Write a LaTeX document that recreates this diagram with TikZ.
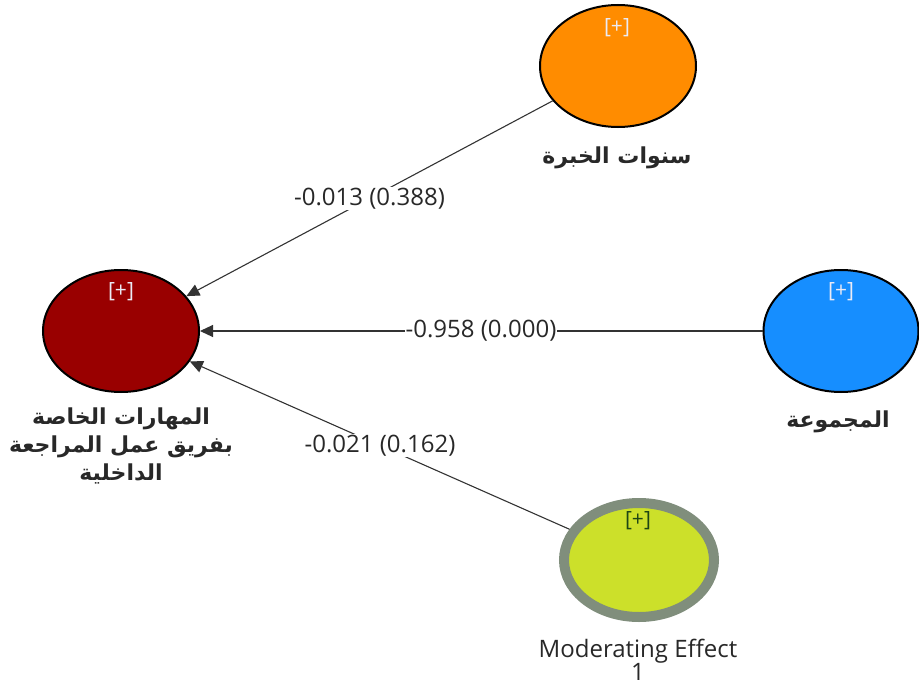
\documentclass[tikz,border=0pt]{standalone}
\usepackage{fontspec}
\setmainfont{Open Sans}
\newfontfamily\arabicfont[Script=Arabic]{DejaVu Sans}
\TeXXeTstate=1
\usetikzlibrary{shapes.geometric,arrows.meta,calc}
\definecolor{cred}{RGB}{153,0,0}
\definecolor{corange}{RGB}{255,140,0}
\definecolor{cblue}{RGB}{22,142,255}
\definecolor{cyellow}{RGB}{204,224,42}
\definecolor{cgray}{RGB}{128,142,124}
\definecolor{ctext}{RGB}{40,40,40}
\definecolor{cplus}{RGB}{235,235,245}
\definecolor{cplusdark}{RGB}{30,70,20}
\tikzset{
  lv/.style={ellipse, draw=black, line width=2pt, inner sep=0pt,
    minimum width=156pt, minimum height=122pt},
  modlv/.style={ellipse, draw=cgray, line width=10pt, inner sep=0pt,
    minimum width=150pt, minimum height=114pt},
  plus/.style={font=\fontsize{21}{24}\selectfont, text=cplus, inner sep=0pt},
  arlabel/.style={font=\arabicfont\bfseries\fontsize{22}{28}\selectfont, text=ctext, align=center, inner sep=0pt},
  enlabel/.style={font=\fontsize{24}{23}\selectfont, text=ctext, align=center, inner sep=0pt},
  pathedge/.style={draw=black!80, line width=1.1pt, -{Triangle[length=13pt,width=12pt]}},
  coef/.style={fill=white, font=\fontsize{24}{28}\selectfont, text=ctext, inner sep=1pt}
}
\begin{document}
\begin{tikzpicture}[x=1pt,y=-1pt]
\useasboundingbox (0,0) rectangle (919,688);
\node[lv, fill=cred] (skills) at (121,331) {};
\node[lv, fill=corange] (years) at (618,66) {};
\node[lv, fill=cblue, minimum width=155pt] (group) at (841,331) {};
\node[modlv, fill=cyellow] (mod) at (639,560) {};

\node[plus] (p1) at (121,292) {[+]};
\node[plus] (p2) at (617,28) {[+]};
\node[plus] (p3) at (841,292) {[+]};
\node[plus, text=cplusdark] (p4) at (638,521) {[+]};

\node[arlabel] (l1) at (121,446) {\beginR المهارات الخاصة\endR\\\beginR بفريق عمل المراجعة\endR\\\beginR الداخلية\endR};
\node[arlabel] (l2) at (617,158) {\beginR سنوات الخبرة\endR};
\node[arlabel] (l3) at (838,422) {\beginR المجموعة\endR};
\node[enlabel] (l4) at (638,660) {Moderating Effect\\1};

\draw[pathedge] (years) -- (skills);
\draw[pathedge] (group) -- (skills);
\draw[pathedge] (mod) -- (skills);

\node[coef] (c1) at ($(years.center)!0.5!(skills.center)$) {-0.013 (0.388)};
\node[coef] (c2) at ($(group.center)!0.5!(skills.center)$) {-0.958 (0.000)};
\node[coef] (c3) at ($(mod.center)!0.5!(skills.center)$) {-0.021 (0.162)};
\end{tikzpicture}
\end{document}
